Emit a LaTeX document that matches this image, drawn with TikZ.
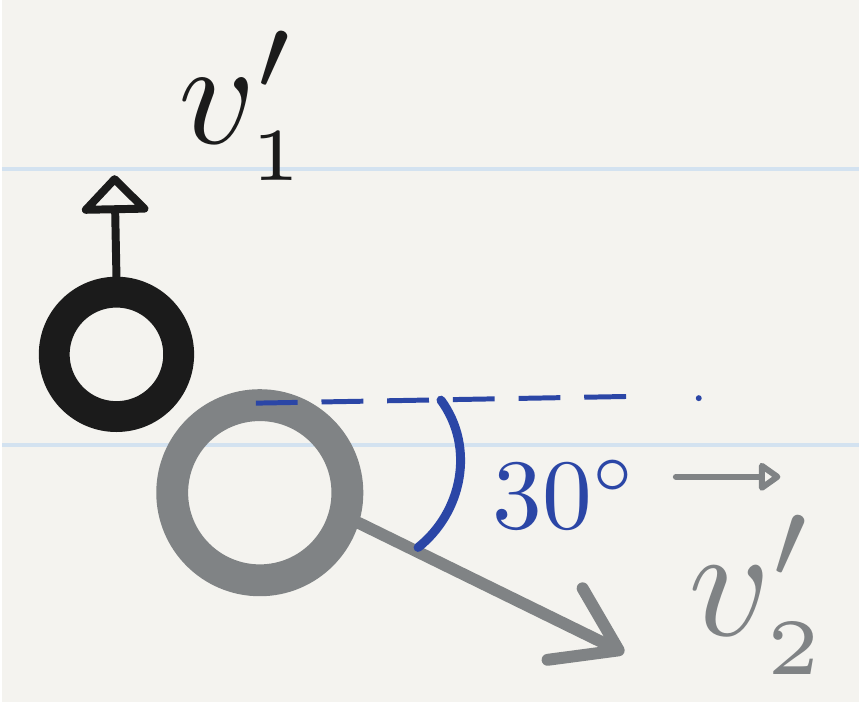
\documentclass[tikz,border=0pt]{standalone}
\usetikzlibrary{arrows.meta}
\definecolor{paper}{HTML}{F4F3EF}
\definecolor{ruleblue}{HTML}{D3E2F0}
\definecolor{inkblack}{HTML}{1B1B1B}
\definecolor{inkgray}{HTML}{808385}
\definecolor{inkblue}{HTML}{2B46A6}

\begin{document}
\begin{tikzpicture}[x=1pt, y=-1pt,
    ruleline/.style={ruleblue, line width=4pt},
    blackball/.style={draw=inkblack, circle, line width=31pt, minimum size=125pt, inner sep=0pt},
    grayball/.style={draw=inkgray, circle, line width=32pt, minimum size=176pt, inner sep=0pt},
    v1arrow/.style={inkblack, line width=8pt, line cap=round, -{Triangle[open, round, length=40pt, width=76pt]}},
    v2arrow/.style={inkgray, line width=12pt, line cap=round, -{Straight Barb[round, length=60pt, width=80pt]}},
    vecarrow/.style={inkgray, line width=6pt, line cap=round, -{Triangle[open, round, length=24pt, width=32pt]}},
    dashline/.style={inkblue, line width=5pt, dash pattern=on 42pt off 24pt},
    anglearc/.style={inkblue, line width=9pt, line cap=round},
    blacklabel/.style={inkblack, scale=15, inner sep=0pt},
    graylabel/.style={inkgray, scale=16, inner sep=0pt},
    bluelabel/.style={inkblue, scale=10, inner sep=0pt},
]
    \fill[paper] (0,0) rectangle (861,705);
    \draw[ruleline] (0,170) -- (861,170);
    \draw[ruleline] (0,447) -- (861,447);

    \node[blackball] (p1) at (115,356) {};
    \node[grayball] (p2) at (259,495) {};

    \coordinate (v1tip) at (113,176);
    \draw[v1arrow] (p1.north) -- (v1tip);
    \node[blacklabel] (v1) at (243,106) {$v'_{\scriptscriptstyle 1}$};

    \coordinate (d0) at (255,405);
    \coordinate (d1) at (645,398);
    \coordinate (dot) at (700,400);
    \draw[dashline] (d0) -- (d1);
    \fill[inkblue] (dot) circle (3pt);

    \coordinate (v2tip) at (625,656);
    \draw[v2arrow] (p2.-17) -- (v2tip);

    \coordinate (a0) at (441,402);
    \coordinate (a1) at (418,550);
    \draw[anglearc] (a0) .. controls (476,450) and (462,515) .. (a1);
    \node[bluelabel] (ang) at (566,497) {$30^\circ$};

    \node[graylabel] (v2) at (760,598) {$v'_{\scriptscriptstyle 2}$};
    \coordinate (w0) at (677,479);
    \coordinate (w1) at (782,479);
    \draw[vecarrow] (w0) -- (w1);
\end{tikzpicture}
\end{document}
